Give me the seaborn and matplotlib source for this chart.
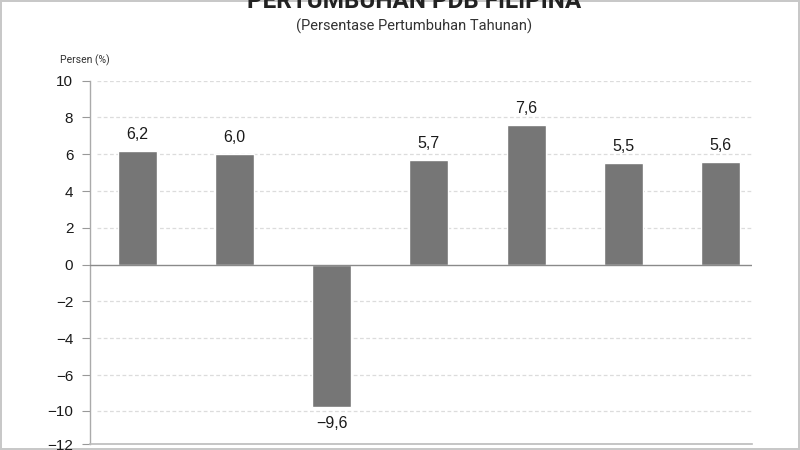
import numpy as np
import pandas as pd
import matplotlib
matplotlib.use("Agg")
import matplotlib.pyplot as plt
import seaborn as sns

# data
years = ["2018", "2019", "2020", "2021", "2022", "2023", "2024"]
growth = [6.2, 6.0, -9.6, 5.7, 7.6, 5.5, 5.6]
ytick_values = [10, 8, 6, 4, 2, 0, -2, -4, -6, -10, -12]
grid_values = [10, 8, 6, 4, 2, -2, -4, -6, -10]

df = pd.DataFrame({"Tahun": years, "Pertumbuhan": growth})

sns.set_theme(style="white")
plt.rcParams["font.family"] = ["Roboto", "DejaVu Sans"]
num_font = ["Liberation Sans", "DejaVu Sans"]

# the reference compresses the axis below -6
knots_data = [-100, -12, -10, -6, 100]
knots_vis = [-97.75, -9.75, -7.93, -6, 100]


def fwd(y):
    return np.interp(y, knots_data, knots_vis)


def inv(v):
    return np.interp(v, knots_vis, knots_data)


fig = plt.figure(figsize=(8, 4.5), dpi=100)
fig.patch.set_facecolor("white")
fig.patch.set_edgecolor("#c8c8c8")
fig.patch.set_linewidth(1.5)
ax = fig.add_axes([0.1125, 0.0133, 0.8271, 0.8074])

sns.barplot(data=df, x="Tahun", y="Pertumbuhan", color="#767676",
            saturation=1, width=0.4, ax=ax)

ax.set_yscale("function", functions=(fwd, inv))
ax.set_ylim(-12, 10)
ax.set_xlim(-0.485, 6.32)

# gridlines and zero line
for g in grid_values:
    ax.axhline(g, color="#dcdcdc", lw=0.9, ls=(0, (3, 2)), zorder=0, xmin=0.01)
ax.axhline(0, color="#8a8a8a", lw=1.0, zorder=3)

ax.set_yticks(ytick_values)
ax.set_yticklabels([str(t).replace("-", "\u2212") for t in ytick_values],
                   family=num_font)
ax.tick_params(axis="y", which="both", length=6, width=0.8, color="#999999",
               pad=6, labelsize=11, labelcolor="#1a1a1a", left=True)
ax.yaxis.set_minor_locator(matplotlib.ticker.NullLocator())
# year labels fall below the visible area in the reference
ax.tick_params(axis="x", length=0, labelbottom=False)

for side in ["top", "right"]:
    ax.spines[side].set_visible(False)
ax.spines["left"].set_color("#aaaaaa")
ax.spines["left"].set_linewidth(1.0)
ax.spines["bottom"].set_color("#bbbbbb")
ax.spines["bottom"].set_linewidth(1.2)

ax.set_xlabel("")
ax.set_ylabel("")

labels = [f"{v:.1f}".replace(".", ",").replace("-", "\u2212") for v in growth]
ax.bar_label(ax.containers[0], labels=labels, padding=6.5, fontsize=11.5,
             color="#1a1a1a", family=num_font)

fig.text(0.5175, 0.9816, "PERTUMBUHAN PDB FILIPINA", ha="center",
         va="baseline", fontsize=17.5, fontweight="bold", color="#222222")
fig.text(0.5175, 0.932, "(Persentase Pertumbuhan Tahunan)", ha="center",
         va="baseline", fontsize=10.5, color="#333333")
fig.text(0.075, 0.866, "Persen (%)", ha="left", va="center", fontsize=7.5,
         color="#333333")

fig.savefig("out.png", dpi=100)
